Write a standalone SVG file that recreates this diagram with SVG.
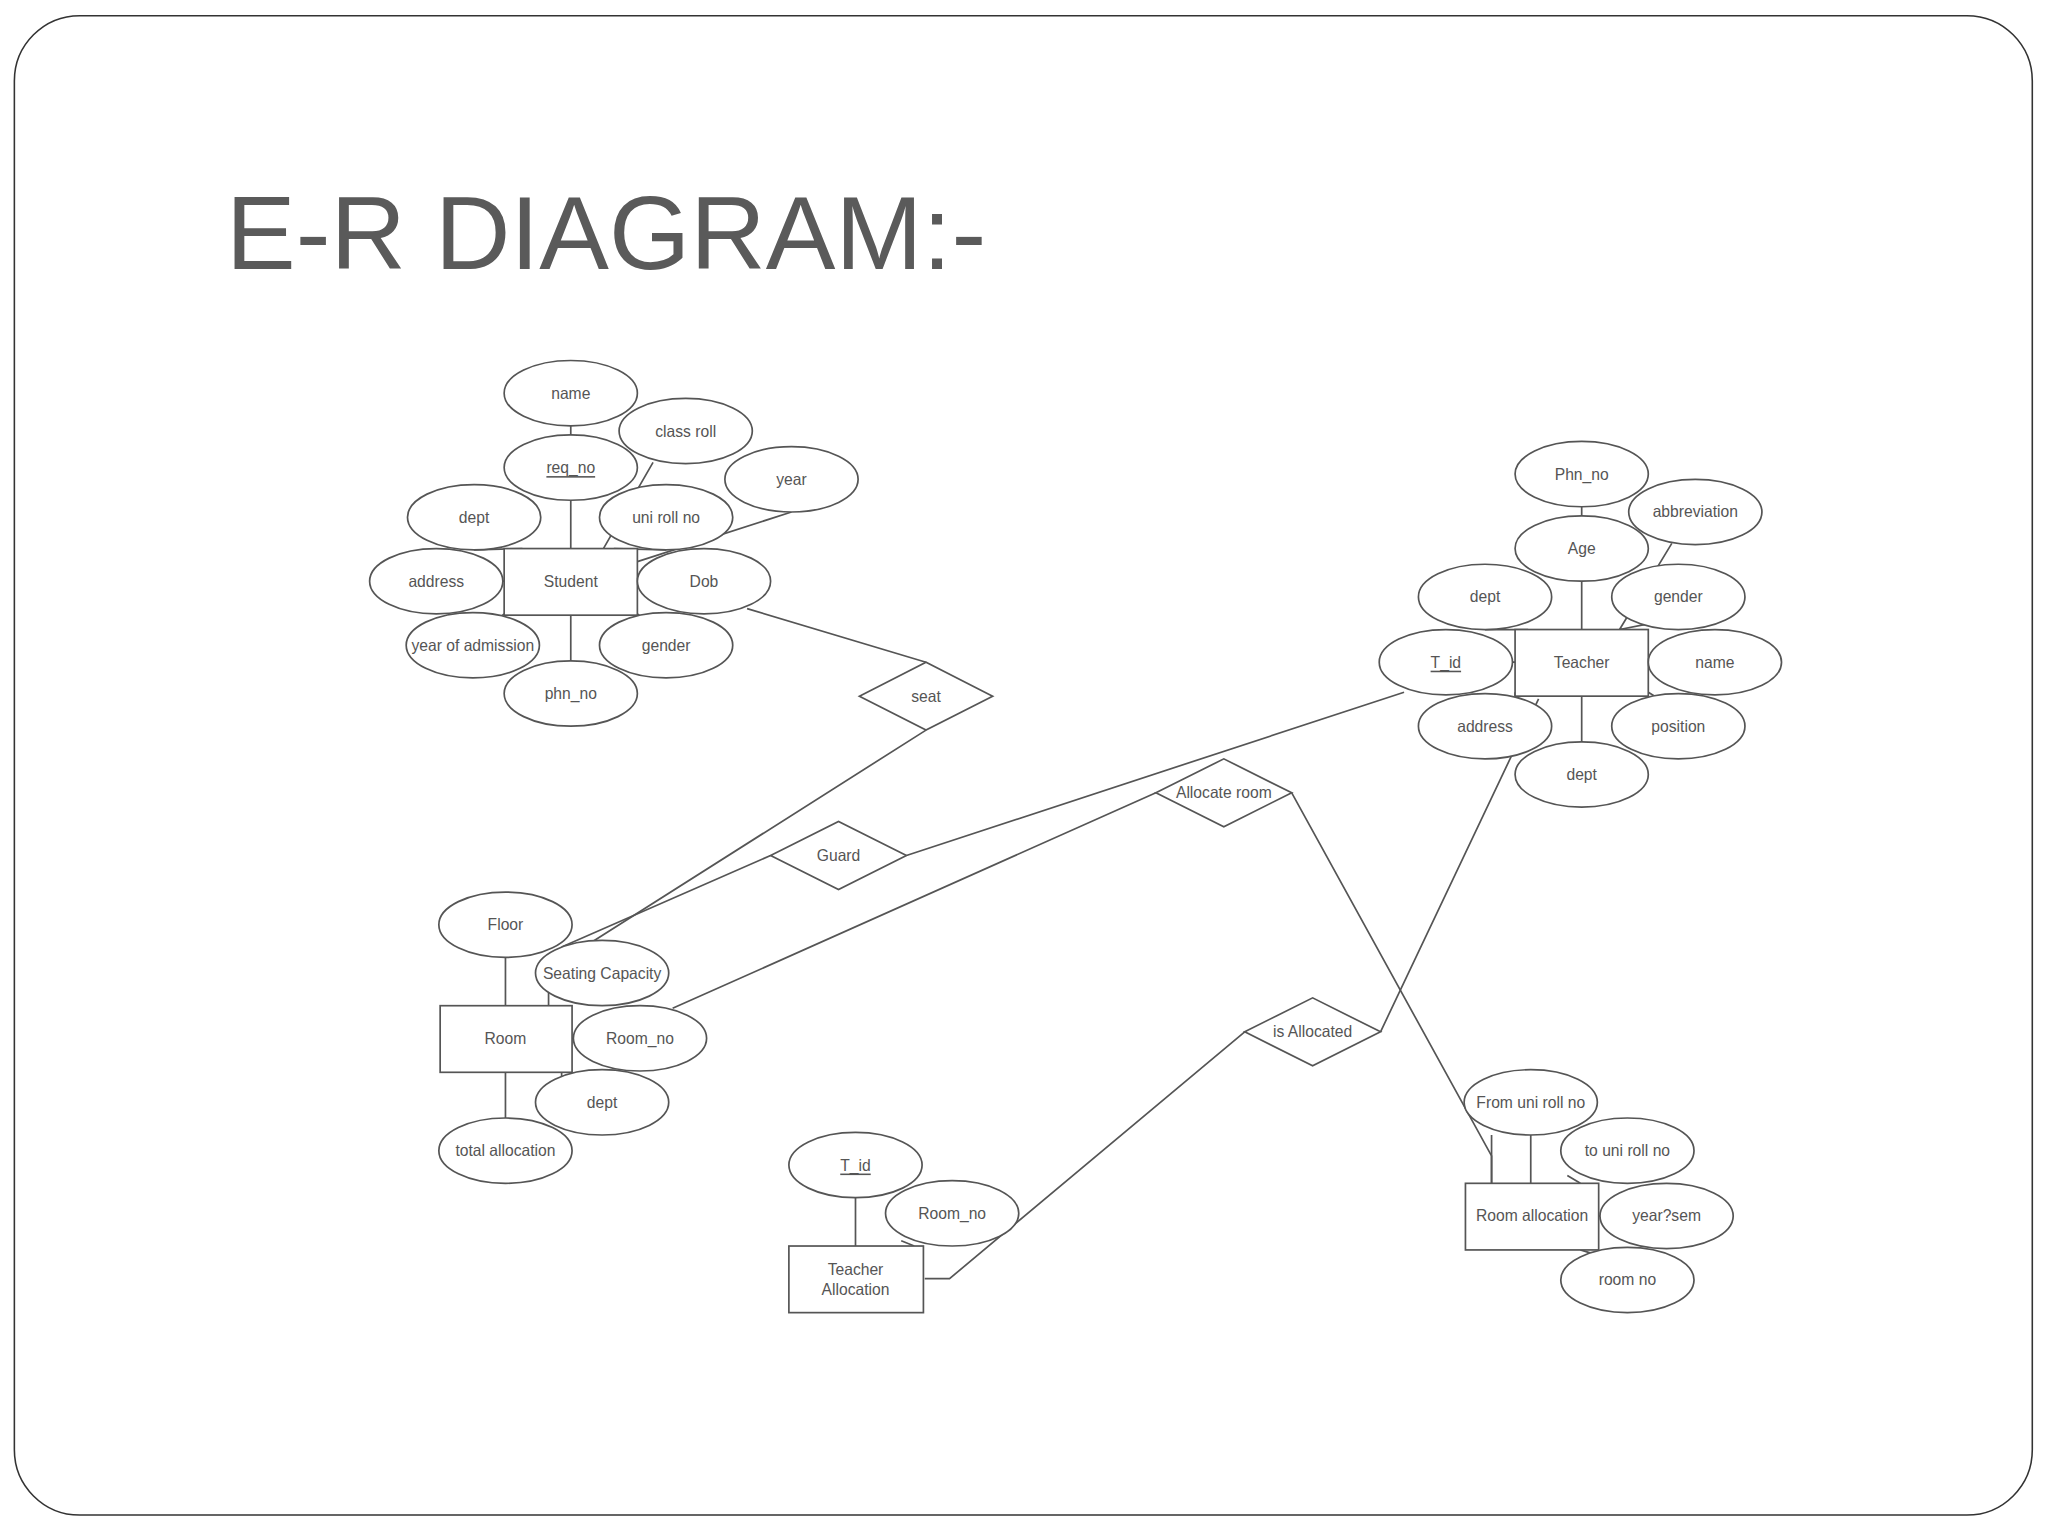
<svg xmlns="http://www.w3.org/2000/svg" width="2048" height="1536" viewBox="0 0 2048 1536">
<style>
.e{fill:#fff;stroke:#555;stroke-width:1.3}
.r{fill:#fff;stroke:#555;stroke-width:1.3}
.l{fill:none;stroke:#555;stroke-width:1.3}
text{font-family:"Liberation Sans",Arial,sans-serif;font-size:12px;fill:#555;text-anchor:middle;dominant-baseline:central}
.u{text-decoration:underline}
</style>
<rect width="2048" height="1536" fill="#fff"/>
<g transform="scale(1.3061)">
<rect x="11" y="12" width="1545" height="1148" rx="50" fill="#fff" stroke="#333" stroke-width="1.2"/>
<text x="173" y="178" style="font-size:80px;fill:#5a5a5a;text-anchor:start">E-R DIAGRAM:-</text>
<g id="connectors" class="l">
<path d="M437 326V420M500 354L462 420M606 392L488 430M363 421L400 420M510 421L470 420M386 445H385M488 445H490M386 470L380 475M488 470L495 475M437 471V506"/>
<path d="M572 466L709 507M709 559L452 722"/>
<path d="M1211 388V482M1280 416L1240 482M1137 482L1170 482M1260 478L1240 482M1158 507H1160M1262 507H1264M1160 530L1160 533M1262 530L1270 535M1211 533V568"/>
<path d="M1075 530L694 655M590 655L430 725"/>
<path d="M515 772L885 607M989 607L1142 885V906"/>
<path d="M1178 535L1057 790M953 790L727 979H708"/>
<path d="M387 733V770M420 760V770M438 795H440M430 825L430 821M387 821V856"/>
<path d="M655 917V954M690 950L700 954"/>
<path d="M1142 869V906M1172 869V906M1200 900L1210 906M1224 931H1226M1210 957L1220 960"/>
</g>
<g id="student"><rect class="r" x="386" y="420" width="102" height="51"/><text x="437" y="445">Student</text></g>
<g id="a1"><ellipse class="e" cx="437" cy="301" rx="51" ry="25"/><text x="437" y="301">name</text></g>
<g id="a2"><ellipse class="e" cx="525" cy="330" rx="51" ry="25"/><text x="525" y="330">class roll</text></g>
<g id="a3"><ellipse class="e" cx="437" cy="358" rx="51" ry="25"/><text class="u" x="437" y="358">req_no</text></g>
<g id="a4"><ellipse class="e" cx="606" cy="367" rx="51" ry="25"/><text x="606" y="367">year</text></g>
<g id="a5"><ellipse class="e" cx="363" cy="396" rx="51" ry="25"/><text x="363" y="396">dept</text></g>
<g id="a6"><ellipse class="e" cx="510" cy="396" rx="51" ry="25"/><text x="510" y="396">uni roll no</text></g>
<g id="a7"><ellipse class="e" cx="334" cy="445" rx="51" ry="25"/><text x="334" y="445">address</text></g>
<g id="a8"><ellipse class="e" cx="539" cy="445" rx="51" ry="25"/><text x="539" y="445">Dob</text></g>
<g id="a9"><ellipse class="e" cx="362" cy="494" rx="51" ry="25"/><text x="362" y="494">year of admission</text></g>
<g id="a10"><ellipse class="e" cx="510" cy="494" rx="51" ry="25"/><text x="510" y="494">gender</text></g>
<g id="a11"><ellipse class="e" cx="437" cy="531" rx="51" ry="25"/><text x="437" y="531">phn_no</text></g>
<g id="seat"><polygon class="r" points="658,533 709,507 760,533 709,559"/><text x="709" y="533">seat</text></g>
<g id="teacher"><rect class="r" x="1160" y="482" width="102" height="51"/><text x="1211" y="507">Teacher</text></g>
<g id="t1"><ellipse class="e" cx="1211" cy="363" rx="51" ry="25"/><text x="1211" y="363">Phn_no</text></g>
<g id="t2"><ellipse class="e" cx="1298" cy="392" rx="51" ry="25"/><text x="1298" y="392">abbreviation</text></g>
<g id="t3"><ellipse class="e" cx="1211" cy="420" rx="51" ry="25"/><text x="1211" y="420">Age</text></g>
<g id="t4"><ellipse class="e" cx="1137" cy="457" rx="51" ry="25"/><text x="1137" y="457">dept</text></g>
<g id="t5"><ellipse class="e" cx="1285" cy="457" rx="51" ry="25"/><text x="1285" y="457">gender</text></g>
<g id="t6"><ellipse class="e" cx="1107" cy="507" rx="51" ry="25"/><text class="u" x="1107" y="507">T_id</text></g>
<g id="t7"><ellipse class="e" cx="1313" cy="507" rx="51" ry="25"/><text x="1313" y="507">name</text></g>
<g id="t8"><ellipse class="e" cx="1137" cy="556" rx="51" ry="25"/><text x="1137" y="556">address</text></g>
<g id="t9"><ellipse class="e" cx="1285" cy="556" rx="51" ry="25"/><text x="1285" y="556">position</text></g>
<g id="t10"><ellipse class="e" cx="1211" cy="593" rx="51" ry="25"/><text x="1211" y="593">dept</text></g>
<g id="guard"><polygon class="r" points="590,655 642,629 694,655 642,681"/><text x="642" y="655">Guard</text></g>
<g id="allocroom"><polygon class="r" points="885,607 937,581 989,607 937,633"/><text x="937" y="607">Allocate room</text></g>
<g id="isalloc"><polygon class="r" points="953,790 1005,764 1057,790 1005,816"/><text x="1005" y="790">is Allocated</text></g>
<g id="room"><rect class="r" x="337" y="770" width="101" height="51"/><text x="387" y="795">Room</text></g>
<g id="r1"><ellipse class="e" cx="387" cy="708" rx="51" ry="25"/><text x="387" y="708">Floor</text></g>
<g id="r2"><ellipse class="e" cx="461" cy="745" rx="51" ry="25"/><text x="461" y="745">Seating Capacity</text></g>
<g id="r3"><ellipse class="e" cx="490" cy="795" rx="51" ry="25"/><text x="490" y="795">Room_no</text></g>
<g id="r4"><ellipse class="e" cx="461" cy="844" rx="51" ry="25"/><text x="461" y="844">dept</text></g>
<g id="r5"><ellipse class="e" cx="387" cy="881" rx="51" ry="25"/><text x="387" y="881">total allocation</text></g>
<g id="talloc"><rect class="r" x="604" y="954" width="103" height="51"/><text x="655" y="972">Teacher</text><text x="655" y="987">Allocation</text></g>
<g id="ta1"><ellipse class="e" cx="655" cy="892" rx="51" ry="25"/><text class="u" x="655" y="892">T_id</text></g>
<g id="ta2"><ellipse class="e" cx="729" cy="929" rx="51" ry="25"/><text x="729" y="929">Room_no</text></g>
<g id="ralloc"><rect class="r" x="1122" y="906" width="102" height="51"/><text x="1173" y="931">Room allocation</text></g>
<g id="ra1"><ellipse class="e" cx="1172" cy="844" rx="51" ry="25"/><text x="1172" y="844">From uni roll no</text></g>
<g id="ra2"><ellipse class="e" cx="1246" cy="881" rx="51" ry="25"/><text x="1246" y="881">to uni roll no</text></g>
<g id="ra3"><ellipse class="e" cx="1276" cy="931" rx="51" ry="25"/><text x="1276" y="931">year?sem</text></g>
<g id="ra4"><ellipse class="e" cx="1246" cy="980" rx="51" ry="25"/><text x="1246" y="980">room no</text></g>
</g>
</svg>
